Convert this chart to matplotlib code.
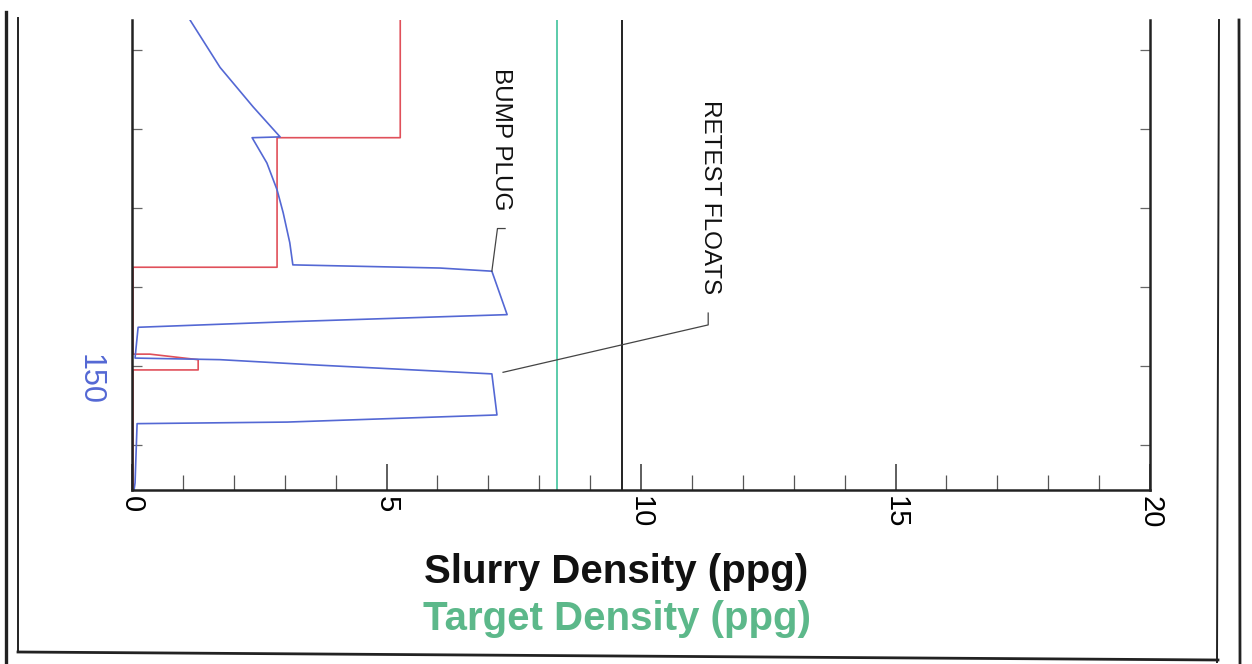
import matplotlib
matplotlib.use("Agg")
import matplotlib.pyplot as plt
from matplotlib.lines import Line2D
from matplotlib.ticker import MultipleLocator

# slurry density trace (blue) vs job time
blue_density = [1.14, 1.73, 2.38, 2.91, 2.36, 2.65, 2.85, 2.97, 3.10, 3.16, 6.05, 7.07,
                7.37, 3.05, 0.12, 0.06, 1.73, 3.69, 7.07, 7.17, 3.05, 0.10, 0.06, 0.04]
blue_time = [106.2, 112.2, 117.2, 121.0, 121.1, 124.3, 127.7, 130.6, 134.4, 137.2, 137.6, 138.0,
             143.5, 144.4, 145.1, 149.0, 149.2, 149.9, 151.0, 156.2, 157.1, 157.3, 164.8, 165.7]

# second trace (red)
red_density = [5.27, 5.27, 2.85, 2.85, 0.02, 0.02, 0.35, 1.30, 1.30, 0.02, 0.02]
red_time = [106.2, 121.1, 121.1, 137.5, 137.5, 148.5, 148.5, 149.2, 150.5, 150.5, 165.7]

target_density = 8.35
reference_density = 9.63

time_ticks = [110, 120, 130, 140, 150, 160]
time_labels = ["", "", "", "", "150", ""]
density_ticks = [0, 5, 10, 15, 20]

# annotations: label, text x, text top, leader path
bump_label = "BUMP PLUG"
bump_text = (7.25, 112.3)
bump_leader_x = [7.33, 7.18, 7.07]
bump_leader_t = [132.6, 132.6, 138.0]
retest_label = "RETEST FLOATS"
retest_text = (11.36, 116.3)
retest_leader_x = [11.32, 11.32, 7.29]
retest_leader_t = [143.3, 144.8, 150.8]

BLUE = "#5468d4"
RED = "#e0505a"
GREEN = "#3fc29c"
TEXT_GREEN = "#5cb88a"

plt.rcParams["font.family"] = ["Liberation Sans", "DejaVu Sans"]

fig = plt.figure(figsize=(12.52, 6.64), dpi=100)
ax = fig.add_axes([132 / 1252, 1 - 490 / 664, (1150 - 132) / 1252, (490 - 20) / 664])

ax.plot(red_density, red_time, color=RED, lw=1.2)
ax.plot(blue_density, blue_time, color=BLUE, lw=1.2)
ax.axvline(target_density, color=GREEN, lw=1.2)
ax.axvline(reference_density, color="#222222", lw=1.4)

ax.set_xlim(0, 20)
ax.set_ylim(165.7, 106.2)

ax.spines["top"].set_visible(False)
for s in ["left", "right", "bottom"]:
    ax.spines[s].set_linewidth(1.8)
    ax.spines[s].set_color("#222222")

ax.set_xticks(density_ticks)
ax.set_xticklabels([str(v) for v in density_ticks])
ax.xaxis.set_minor_locator(MultipleLocator(1))
ax.tick_params(axis="x", which="major", direction="in", length=19, width=1.1,
               labelsize=21, labelrotation=-90, pad=4, color="#333333")
ax.tick_params(axis="x", which="minor", direction="in", length=11, width=0.9, color="#555555")

ax.set_yticks(time_ticks)
ax.set_yticklabels(time_labels)
ax.tick_params(axis="y", which="major", direction="in", length=7, width=0.9,
               left=True, right=True, labelsize=22, labelcolor=BLUE,
               labelrotation=-90, pad=20, color="#666666")

# annotations
ax.text(bump_text[0], bump_text[1], bump_label, rotation=-90, ha="center", va="top",
        fontsize=17.5, color="#111111")
ax.plot(bump_leader_x, bump_leader_t, color="#444444", lw=0.9)
ax.text(retest_text[0], retest_text[1], retest_label, rotation=-90, ha="center", va="top",
        fontsize=17.5, color="#111111")
ax.plot(retest_leader_x, retest_leader_t, color="#444444", lw=0.9)

# axis titles
fig.text(616 / 1252, 1 - 572 / 664, "Slurry Density (ppg)", ha="center", va="center",
         fontsize=29, fontweight="bold", color="#111111")
fig.text(617 / 1252, 1 - 619 / 664, "Target Density (ppg)", ha="center", va="center",
         fontsize=29, fontweight="bold", color=TEXT_GREEN)

# scanned page frame
W, H = 1252, 664
def frame_line(x0, y0, x1, y1, lw):
    fig.add_artist(Line2D([x0 / W, x1 / W], [1 - y0 / H, 1 - y1 / H],
                          transform=fig.transFigure, color="#222222", lw=lw))

frame_line(6, 12, 6, 664, 2.4)
frame_line(18, 18, 18, 652, 1.4)
frame_line(18, 652, 1218, 660, 2.0)
frame_line(1219, 20, 1217, 662, 1.4)
frame_line(1239, 20, 1240, 664, 2.0)

fig.savefig("out.png", dpi=100, facecolor="white")
